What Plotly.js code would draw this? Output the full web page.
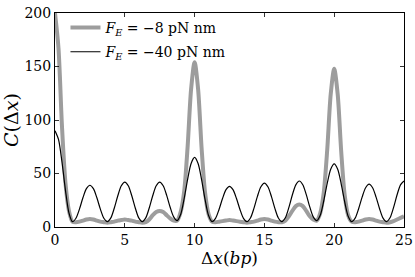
<!DOCTYPE html>
<html>
<head>
<meta charset="utf-8">
<script src="https://cdn.plot.ly/plotly-3.0.1.min.js"></script>
<style>html,body{margin:0;padding:0;background:#fff;}#chart{width:415px;height:277px;}</style>
</head>
<body>
<div id="chart"></div>
<script>
// x positions (bp)
const dx = [];
for (let i = 0; i <= 100; i++) dx.push(i * 0.25);

// F_E = -8 pN nm (gray, thick)
const c8 = [
  200, 167, 94, 41, 15, 5, 4.5, 5, 6, 7,
  7.5, 7, 6, 5, 4.5, 4, 4.5, 5, 6, 6.5,
  7, 6.5, 6, 5, 4.5, 4, 4.5, 7, 11, 14,
  15, 14, 11, 8, 6, 6, 14, 33, 75, 129,
  154, 129, 74, 32, 12, 5, 4.5, 5, 5.5, 6,
  6.5, 6, 5.5, 5, 4.5, 4, 4.5, 5, 6, 7,
  7.5, 7, 6, 5, 4.5, 4.5, 6, 10, 15, 19.5,
  21, 19.5, 15, 10, 7, 6, 13, 32, 72, 124,
  148, 124, 71, 30, 11, 5, 4.5, 5, 6, 7,
  7.5, 7, 6, 5, 4.5, 4, 4.5, 5.5, 7, 8.5,
  10
];

// F_E = -40 pN nm (black, thin)
const c40 = [
  90, 81.9, 60.7, 34.3, 13.1, 5, 8.2, 16.7, 27.3, 35.8,
  39, 35.8, 27.3, 16.7, 8.2, 5, 8.5, 17.8, 29.2, 38.5,
  42, 38.5, 29.2, 17.8, 8.5, 5, 8.5, 17.8, 29.2, 38.5,
  42, 38.6, 29.6, 18.4, 9.4, 6, 11.6, 26.4, 44.6, 59.4,
  65, 59.3, 44.3, 25.7, 10.7, 5, 8.1, 16.4, 26.6, 34.9,
  38, 34.9, 26.6, 16.4, 8.1, 5, 8.4, 17.4, 28.6, 37.6,
  41, 37.6, 28.6, 17.4, 8.4, 5, 8.6, 18.1, 29.9, 39.4,
  43, 39.5, 30.2, 18.8, 9.5, 6, 11.0, 24.3, 40.7, 54.0,
  59, 53.9, 40.4, 23.6, 10.1, 5, 8.3, 17.1, 27.9, 36.7,
  40, 36.7, 27.9, 17.1, 8.3, 5, 8.6, 18.1, 29.9, 39.4,
  43
];

const xTicks = [0, 5, 10, 15, 20, 25];
const yTicks = [0, 50, 100, 150, 200];
const names = ['<i>F<sub>E</sub></i> = −8 pN nm', '<i>F<sub>E</sub></i> = −40 pN nm'];

const font = 'DejaVu Serif';

const traces = [
  {x: dx, y: c8, type: 'scatter', mode: 'lines', name: names[0], legendgroup: 'a',
   line: {color: '#9d9d9d', width: 4, shape: 'spline', smoothing: 0.8}},
  {x: dx, y: c40, type: 'scatter', mode: 'lines', name: names[1], legendgroup: 'b',
   line: {color: '#000000', width: 1.2, shape: 'spline', smoothing: 0.8}}
];

const axisCommon = {
  showgrid: false, zeroline: false, showline: true, linecolor: '#000', linewidth: 1,
  mirror: 'ticks', ticks: 'inside', ticklen: 4, tickwidth: 0.8, tickcolor: '#000',
  tickfont: {family: font, size: 14, color: '#000'}
};

const layout = {
  width: 415, height: 277,
  margin: {l: 55, r: 11, t: 13, b: 50},
  paper_bgcolor: '#fff', plot_bgcolor: '#fff',
  showlegend: true,
  legend: {x: 0.03, y: 1.005, xanchor: 'left', yanchor: 'top', bgcolor: 'rgba(0,0,0,0)',
           borderwidth: 0, font: {family: font, size: 14, color: '#000'}, itemwidth: 30,
           traceorder: 'grouped', tracegroupgap: 3},
  xaxis: Object.assign({}, axisCommon, {
    range: [0, 25], tickvals: xTicks, ticktext: xTicks.map(String),
    title: {text: 'Δ<i>x</i>(<i>bp</i>)', font: {family: font, size: 17, color: '#000'}, standoff: 4}
  }),
  yaxis: Object.assign({}, axisCommon, {
    range: [0, 200], tickvals: yTicks, ticktext: yTicks.map(String),
    title: {text: '<i>C</i>(Δ<i>x</i>)', font: {family: font, size: 19, color: '#000'}, standoff: 4}
  })
};

Plotly.newPlot('chart', traces, layout, {staticPlot: true, displayModeBar: false});
</script>
</body>
</html>
